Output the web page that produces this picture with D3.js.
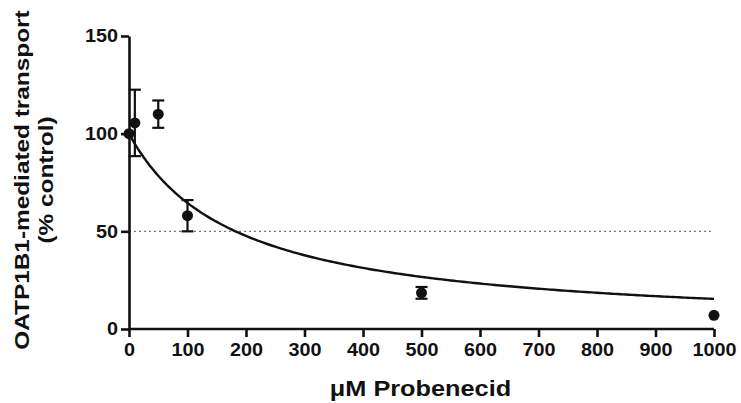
<!DOCTYPE html>
<html>
<head>
<meta charset="utf-8">
<script src="https://cdn.jsdelivr.net/npm/d3@7"></script>
<style>
  body { margin: 0; background: #fff; }
  text { font-family: "Liberation Sans", Arial, sans-serif; font-weight: bold; fill: #111; }
</style>
</head>
<body>
<svg id="chart" width="741" height="403"></svg>
<script>
// Data
const conc = [0, 10, 50, 100, 500, 1000];
const transport = [100, 105.5, 110, 58, 18.5, 7];
const sem = [0, 17, 7, 8, 3, 0];
const xTicks = [0, 100, 200, 300, 400, 500, 600, 700, 800, 900, 1000];
const yTicks = [0, 50, 100, 150];
// fitted inhibition curve: top / (1 + x / IC50)
const fitTop = 100;
const fitIC50 = 182;

const svg = d3.select("#chart");
const margin = { top: 36, right: 27, bottom: 74, left: 129 };
const height = 403 - margin.top - margin.bottom;

const chart = svg.append("g")
    .attr("transform", `translate(${margin.left},${margin.top})`);

const x = d3.scaleLinear().domain([0, 1000]).range([0, 585]);
const y = d3.scaleLinear().domain([0, 150]).range([height, 0]);

// stretch text along its baseline (the original font is a bit wider)
function widen(sel, k) {
    sel.each(function() {
        const w = this.getComputedTextLength();
        d3.select(this).attr("textLength", w * k).attr("lengthAdjust", "spacingAndGlyphs");
    });
}

// 50% reference line
chart.append("line")
    .attr("x1", x(0)).attr("x2", x(1000))
    .attr("y1", y(50)).attr("y2", y(50))
    .attr("stroke", "#777")
    .attr("stroke-width", 1.2)
    .attr("stroke-dasharray", "2,3");

// Axes
const xAxis = chart.append("g")
    .attr("transform", `translate(0,${height})`)
    .call(d3.axisBottom(x).tickValues(xTicks).tickFormat(d3.format("d"))
        .tickSize(8).tickPadding(6).tickSizeOuter(0));
const yAxis = chart.append("g")
    .call(d3.axisLeft(y).tickValues(yTicks).tickFormat(d3.format("d"))
        .tickSize(8).tickPadding(3).tickSizeOuter(0));

[xAxis, yAxis].forEach(g => {
    g.select(".domain").attr("stroke", "#111").attr("stroke-width", 2.6);
    g.selectAll(".tick line").attr("stroke", "#111").attr("stroke-width", 2.6);
    g.selectAll(".tick text")
        .style("font-family", "'Liberation Sans', Arial, sans-serif")
        .style("font-weight", "bold")
        .style("font-size", "18px")
        .attr("fill", "#111")
        .call(widen, 1.1);
});
xAxis.select(".domain").attr("d", `M0,0H${x(1000)}`);

// Fit curve
const curveX = d3.range(0, 1001, 5);
const line = d3.line()
    .x(d => x(d))
    .y(d => y(fitTop / (1 + d / fitIC50)));
chart.append("path")
    .datum(curveX)
    .attr("fill", "none")
    .attr("stroke", "#111")
    .attr("stroke-width", 2.4)
    .attr("d", line);

// Error bars
const pts = conc.map((c, i) => ({ c, v: transport[i], e: sem[i] }));
const bars = chart.selectAll(".err")
    .data(pts.filter(d => d.e > 0))
    .enter().append("g")
    .attr("class", "err")
    .attr("stroke", "#111")
    .attr("stroke-width", 2.2);
bars.append("line")
    .attr("x1", d => x(d.c)).attr("x2", d => x(d.c))
    .attr("y1", d => y(d.v + d.e)).attr("y2", d => y(d.v - d.e));
bars.append("line")
    .attr("x1", d => x(d.c) - 6).attr("x2", d => x(d.c) + 6)
    .attr("y1", d => y(d.v + d.e)).attr("y2", d => y(d.v + d.e));
bars.append("line")
    .attr("x1", d => x(d.c) - 6).attr("x2", d => x(d.c) + 6)
    .attr("y1", d => y(d.v - d.e)).attr("y2", d => y(d.v - d.e));

// Points
chart.selectAll(".dot")
    .data(pts)
    .enter().append("circle")
    .attr("class", "dot")
    .attr("cx", d => x(d.c))
    .attr("cy", d => y(d.v))
    .attr("r", 5.5)
    .attr("fill", "#111");

// Axis titles
svg.append("text")
    .attr("x", margin.left + x(500) - 1)
    .attr("y", 396)
    .attr("text-anchor", "middle")
    .style("font-size", "22px")
    .text("μM Probenecid")
    .call(widen, 1.15);

const yTitle = svg.append("text")
    .attr("transform", "translate(29,180) rotate(-90)")
    .attr("text-anchor", "middle")
    .style("font-size", "21px");
yTitle.append("tspan").attr("x", 0).attr("y", 0).text("OATP1B1-mediated transport").call(widen, 1.16);
yTitle.append("tspan").attr("x", 0).attr("y", 24).text("(% control)").call(widen, 1.16);
</script>
</body>
</html>
